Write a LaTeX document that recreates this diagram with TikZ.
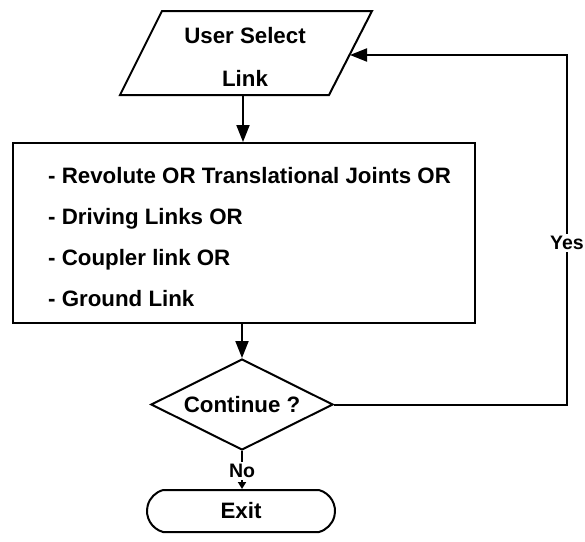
\documentclass[tikz,border=0pt]{standalone}
\usepackage{fontspec}
\setmainfont{Liberation Sans}
\usetikzlibrary{shapes.geometric,shapes.misc,arrows.meta}

\begin{document}
\begin{tikzpicture}[x=1pt,y=-1pt,
  every node/.style={font=\fontsize{22.3}{26}\selectfont\bfseries, inner sep=0pt},
  line/.style={line width=2pt, line join=miter},
  flow/.style={line, -{Triangle[length=17pt,width=13pt]}},
  smallflow/.style={line, -{Triangle[length=7pt,width=8pt]}},
  listbox/.style={draw, line, rectangle, minimum width=462pt, minimum height=180pt},
  decision/.style={draw, line, diamond, aspect=2, minimum width=182pt, minimum height=91pt},
  terminal/.style={draw, line, rounded rectangle, rounded rectangle arc length=150,
    minimum width=188pt, minimum height=42pt},
  tag/.style={fill=white, inner sep=2pt, font=\fontsize{19.5}{22}\selectfont\bfseries}]
\useasboundingbox (0,0) rectangle (585,541);

% input parallelogram
\coordinate (uTL) at (162,11);
\coordinate (uTR) at (372,11);
\coordinate (uBR) at (329,95);
\coordinate (uBL) at (120,95);
\draw[line] (uTL) -- (uTR) -- (uBR) -- (uBL) -- cycle;
\node[align=center, font=\fontsize{22.3}{43}\selectfont\bfseries] (user) at (245,57) {User Select\\Link};
\coordinate (uOut) at (243,95);
\coordinate (uIn) at (350,55);

% list of selectable items
\node[listbox] (list) at (244,233) {};
\node[anchor=west, align=left, font=\fontsize{22.3}{41}\selectfont\bfseries] (items) at (48,237)
  {- Revolute OR Translational Joints OR\\- Driving Links OR\\- Coupler link OR\\- Ground Link};

% decision and exit
\node[decision] (cont) at (242,404.5) {Continue ?};
\node[terminal] (exit) at (241,511) {Exit};

% connectors
\draw[flow] (uOut) -- (uOut |- list.north);
\draw[flow] (cont.north |- list.south) -- (cont.north);
\coordinate (loopx) at (567,0);
\draw[flow] (cont.east) -- (cont.east -| loopx) -- (loopx |- uIn) -- (uIn);
\node[tag] (yes) at (567,243) {Yes};
\draw[smallflow] (cont.south) -- (cont.south |- exit.north);
\node[tag] (no) at (242,471) {No};
\end{tikzpicture}
\end{document}
